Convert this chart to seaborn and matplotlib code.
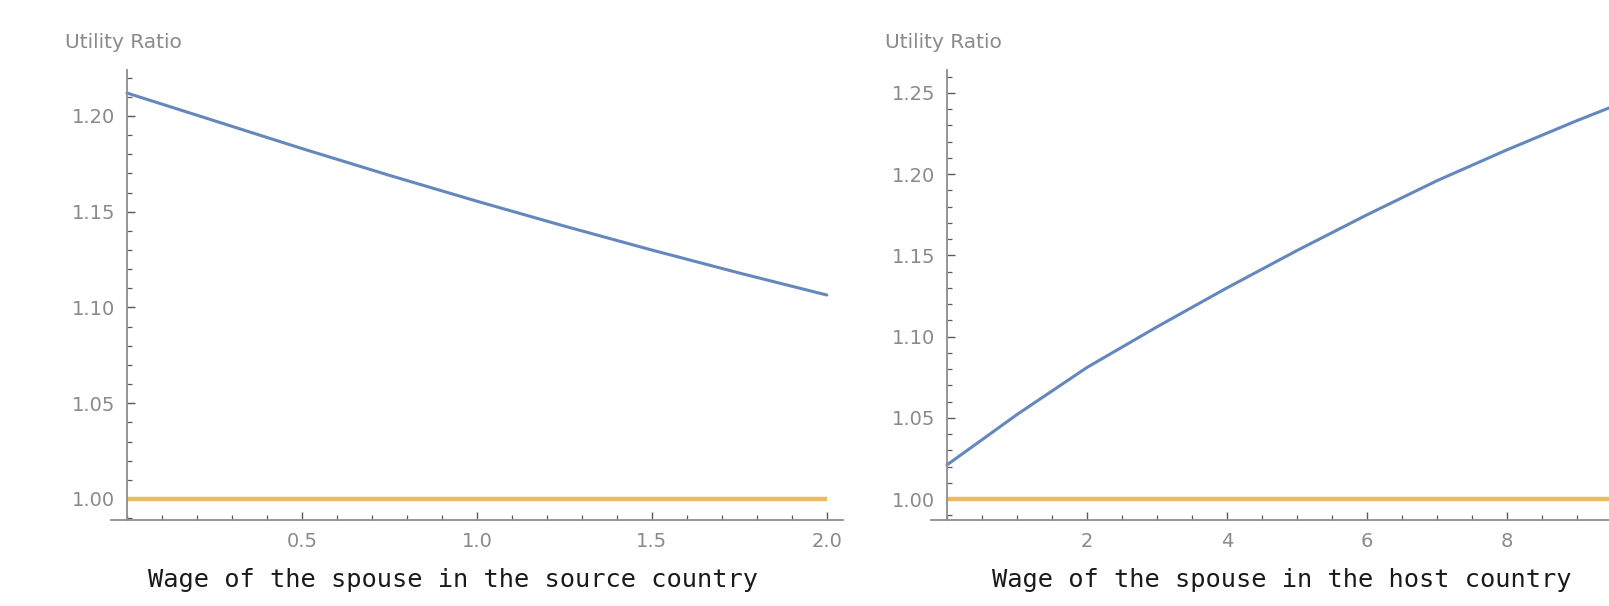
import matplotlib
matplotlib.use("Agg")
import matplotlib.pyplot as plt
from matplotlib.ticker import FixedLocator, MultipleLocator
import seaborn as sns

# Utility ratio as a function of the spouse's wage in the source country
source_wage = [0.0, 0.25, 0.5, 0.75, 1.0, 1.25, 1.5, 1.75, 2.0]
source_ratio = [1.212, 1.1975, 1.183, 1.169, 1.1555, 1.1425, 1.130, 1.118, 1.1065]

# Utility ratio as a function of the spouse's wage in the host country
host_wage = [0, 1, 2, 3, 4, 5, 6, 7, 8, 9, 10]
host_ratio = [1.021, 1.052, 1.081, 1.106, 1.130, 1.153, 1.175, 1.196, 1.215, 1.233, 1.250]

# Reference level (ratio = 1)
baseline_ratio = 1.0

# Tick values and labels
source_xticks = [0.5, 1.0, 1.5, 2.0]
source_xticklabels = ["0.5", "1.0", "1.5", "2.0"]
source_yticks = [1.00, 1.05, 1.10, 1.15, 1.20]
source_yticklabels = ["1.00", "1.05", "1.10", "1.15", "1.20"]
host_xticks = [2, 4, 6, 8]
host_xticklabels = ["2", "4", "6", "8"]
host_yticks = [1.00, 1.05, 1.10, 1.15, 1.20, 1.25]
host_yticklabels = ["1.00", "1.05", "1.10", "1.15", "1.20", "1.25"]

y_label = "Utility Ratio"
source_xlabel = "Wage of the spouse in the source country"
host_xlabel = "Wage of the spouse in the host country"

sns.set_style("white")
plt.rcParams["font.family"] = ["DejaVu Sans"]

BLUE = "#6487bd"
ORANGE = "#ecbb5e"
TICK_TEXT = "#8a8a8a"
AXIS_COLOR = "#8e8e8e"
TICK_COLOR = "#5a5a5a"

W, H = 1609, 606
fig = plt.figure(figsize=(W / 100, H / 100), dpi=100)
fig.patch.set_facecolor("white")

ax1 = fig.add_axes([127 / W, 86 / H, 716 / W, 450 / H])
ax2 = fig.add_axes([947 / W, 86 / H, 714 / W, 450 / H])


def style_axis(ax, xlim, ylim, xticks, xticklabels, yticks, yticklabels,
               xminor, yminor, xlabel, xlabel_x):
    ax.set_xlim(*xlim)
    ax.set_ylim(*ylim)
    for side in ("top", "right"):
        ax.spines[side].set_visible(False)
    for side in ("left", "bottom"):
        ax.spines[side].set_color(AXIS_COLOR)
        ax.spines[side].set_linewidth(1.3)
    span = xlim[1] - xlim[0]
    ax.spines["bottom"].set_bounds(xlim[0] - 0.022 * span, xlim[1])

    ax.xaxis.set_major_locator(FixedLocator(xticks))
    ax.set_xticklabels(xticklabels)
    ax.yaxis.set_major_locator(FixedLocator(yticks))
    ax.set_yticklabels(yticklabels)
    ax.xaxis.set_minor_locator(MultipleLocator(xminor))
    ax.yaxis.set_minor_locator(MultipleLocator(yminor))

    ax.tick_params(which="major", direction="in", length=6, width=1.0,
                   color=TICK_COLOR, labelsize=14, labelcolor=TICK_TEXT, pad=8.5,
                   left=True, bottom=True)
    ax.tick_params(which="minor", direction="in", length=3.3, width=0.9,
                   color=TICK_COLOR, left=True, bottom=True)

    ax.set_ylabel(y_label, rotation=0, ha="left", va="center",
                  fontsize=14.5, color=TICK_TEXT)
    ax.yaxis.set_label_coords(-0.0866, 1.062)
    ax.set_xlabel(xlabel, fontfamily="DejaVu Sans Mono", fontsize=18.3,
                  color="#1a1a1a", va="center")
    ax.xaxis.set_label_coords(xlabel_x, -0.1333)


# Source-country panel
sns.lineplot(x=[source_wage[0], source_wage[-1]], y=[baseline_ratio, baseline_ratio],
             ax=ax1, color=ORANGE, linewidth=3.2, solid_capstyle="butt")
sns.lineplot(x=source_wage, y=source_ratio, ax=ax1, color=BLUE, linewidth=2.2)
style_axis(ax1, (0, 2.046), (0.98903, 1.22402),
           source_xticks, source_xticklabels, source_yticks, source_yticklabels,
           0.1, 0.01, source_xlabel, 0.455)

# Host-country panel
sns.lineplot(x=[host_wage[0], host_wage[-1]], y=[baseline_ratio, baseline_ratio],
             ax=ax2, color=ORANGE, linewidth=3.2, solid_capstyle="butt")
sns.lineplot(x=host_wage, y=host_ratio, ax=ax2, color=BLUE, linewidth=2.2)
style_axis(ax2, (0, 10.2), (0.98707, 1.26416),
           host_xticks, host_xticklabels, host_yticks, host_yticklabels,
           0.5, 0.01, host_xlabel, 0.469)

for ax in (ax1, ax2):
    for line in ax.get_lines():
        line.set_clip_on(False)
        line.set_solid_joinstyle("round")

fig.savefig("out.png", dpi=100, facecolor="white")
